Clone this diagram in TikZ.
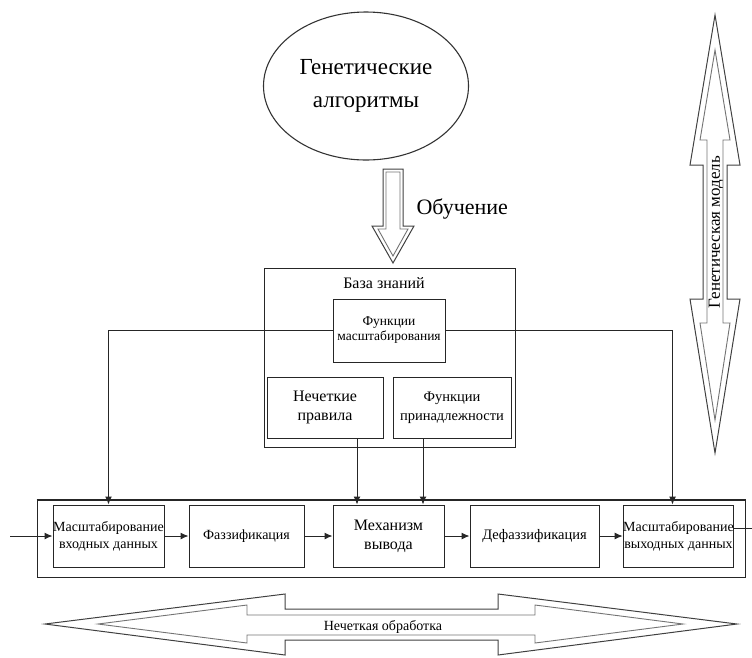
\documentclass[tikz,border=0pt]{standalone}
\usepackage{fontspec}
\setmainfont{Liberation Serif}
\usetikzlibrary{shapes.geometric,arrows.meta,calc}
\begin{document}
\begin{tikzpicture}[x=1pt,y=-1pt,
  box/.style={draw=black!85, line width=1pt, rectangle, inner sep=0pt, align=center},
  conn/.style={draw=black!85, line width=1pt},
  arr/.style={conn, -{Latex[length=8pt,width=7pt]}},
  hollow/.style={draw=black!75, line width=1pt, line join=miter},
  hollowin/.style={draw=black!55, line width=0.9pt, line join=miter},
  f13/.style={font=\fontsize{13.5}{15}\selectfont},
  f14/.style={font=\fontsize{14}{17}\selectfont},
  f16/.style={font=\fontsize{16}{19}\selectfont},
  f22/.style={font=\fontsize{23}{33}\selectfont}
]
\useasboundingbox (0,0) rectangle (752,657);

% ellipse
\node[draw=black!80, line width=1.1pt, ellipse, minimum width=205pt, minimum height=148pt, align=center, f22] (ga) at (366,86) {Генетические\\алгоритмы};

% hollow arrow "Обучение"
\draw[hollow] (383,169) -- (403,169) -- (403,226) -- (414,226) -- (393,263) -- (372,226) -- (383,226) -- cycle;
\draw[hollowin] (386,172) -- (400,172) -- (400,229) -- (408,229) -- (393,256) -- (378,229) -- (386,229) -- cycle;
\node[anchor=west, font=\fontsize{22}{24}\selectfont] (ob) at (413,209) {Обучение};

% knowledge base
\node[box, minimum width=251pt, minimum height=179pt] (kb) at (389.5,357.5) {};
\node[f16] (kbt) at (384,283) {База знаний};
\node[box, minimum width=112pt, minimum height=63pt, f13] (fm) at (389,330.5) {Функции\\масштабирования};
\node[box, minimum width=116pt, minimum height=61pt, f16] (np) at (325,407.5) {Нечеткие\\правила};
\node[box, minimum width=118pt, minimum height=61pt, font=\fontsize{14.5}{19}\selectfont] (fp) at (452,407.5) {Функции\\принадлежности};

% bottom row
\node[box, minimum width=708pt, minimum height=77pt] (outer) at (391,538.5) {};
\draw[draw=black!85, line width=2pt] (outer.north west) -- (outer.north east);
\node[box, minimum width=111pt, minimum height=62pt, f14] (b1) at (108.5,536) {Масштабирование\\входных данных};
\node[box, minimum width=115pt, minimum height=62pt, f14] (b2) at (246.5,536) {Фаззификация};
\node[box, minimum width=111pt, minimum height=62pt, f16] (b3) at (388.5,536) {Механизм\\вывода};
\node[box, minimum width=129pt, minimum height=62pt, font=\fontsize{14.5}{17}\selectfont] (b4) at (534.5,536) {Дефаззификация};
\node[box, minimum width=109pt, minimum height=62pt, f14] (b5) at (678.5,536) {Масштабирование\\выходных данных};

\coordinate (in) at (10,536);
\coordinate (out) at (752,528);
\draw[arr] (in) -- (b1.west);
\draw[arr] (b1.east) -- (b2.west);
\draw[arr] (b2.east) -- (b3.west);
\draw[arr] (b3.east) -- (b4.west);
\draw[arr] (b4.east) -- (b5.west);
\draw[conn] (b5.east |- out) -- (out);

% connectors from knowledge base
\draw[arr] (fm.west) -| (b1.north);
\draw[arr] (fm.east) -| ([xshift=-6pt]b5.north);
\draw[arr] ([xshift=32pt]np.south) -- ([xshift=32pt]np.south |- b3.north);
\draw[arr] ([xshift=-29pt]fp.south) -- ([xshift=-29pt]fp.south |- b3.north);

% vertical double arrow "Генетическая модель"
\draw[hollow] (715,15) -- (740,165) -- (727,165) -- (727,299) -- (740,299) -- (715,453) -- (690,299) -- (703,299) -- (703,165) -- (690,165) -- cycle;
\draw[hollowin] (715,50) -- (730,140) -- (723,140) -- (723,323) -- (730,323) -- (715,420) -- (700,323) -- (707,323) -- (707,140) -- (700,140) -- cycle;
\node[rotate=90, font=\fontsize{17}{18}\selectfont, inner sep=0pt] (gm) at (716,232) {Генетическая модель};

% horizontal double arrow "Нечеткая обработка"
\draw[hollow] (45,624) -- (285,594) -- (285,609) -- (498,609) -- (498,594) -- (737,624) -- (498,655) -- (498,640) -- (285,640) -- (285,655) -- cycle;
\draw[hollowin] (98,624) -- (247,605) -- (247,615) -- (535,615) -- (535,605) -- (683,624) -- (535,643) -- (535,635) -- (247,635) -- (247,643) -- cycle;
\node[f14, inner sep=0pt] (nob) at (383,627) {Нечеткая обработка};
\end{tikzpicture}
\end{document}
